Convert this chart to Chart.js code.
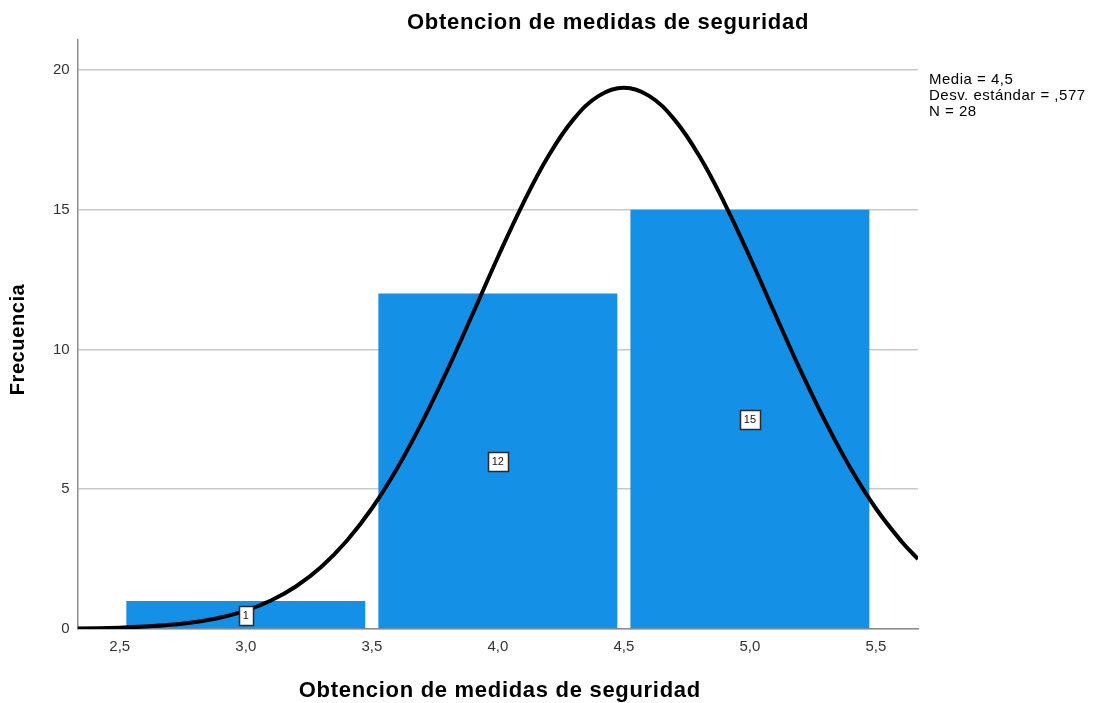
<!DOCTYPE html>
<html>
<head>
	<title>Obtencion de medidas de seguridad</title>
	<script src="https://cdn.jsdelivr.net/npm/chart.js@4.4.1/dist/chart.umd.min.js"></script>
	<style>
		body { margin: 0; background: #fff; }
		#wrap { width: 1099px; height: 703px; }
	</style>
</head>
<body>
	<div id="wrap">
		<canvas id="chart" width="1099" height="703"></canvas>
	</div>
	<script>
		// histograma
		var binCenters = [3, 4, 5];
		var frecuencias = [1, 12, 15];

		// curva normal (media 4,5 / desv 0,577 / N 28)
		var curvaX = [2.333, 2.5, 2.6, 2.7, 2.8, 2.9, 3.0, 3.1, 3.2, 3.3, 3.4, 3.5, 3.6, 3.7, 3.8, 3.9, 4.0, 4.1, 4.2, 4.3, 4.4, 4.5,
			4.6, 4.7, 4.8, 4.9, 5.0, 5.1, 5.2, 5.3, 5.4, 5.5, 5.6, 5.667];
		var curvaY = [0.015, 0.048, 0.086, 0.149, 0.252, 0.414, 0.66, 1.02, 1.53, 2.23, 3.15, 4.31, 5.74, 7.41, 9.27, 11.27, 13.3, 15.22, 16.91, 18.23, 19.07, 19.36,
			19.07, 18.23, 16.91, 15.22, 13.3, 11.27, 9.27, 7.41, 5.74, 4.31, 3.15, 2.5];

		var xTicks = [2.5, 3.0, 3.5, 4.0, 4.5, 5.0, 5.5];
		var yTicks = [0, 5, 10, 15, 20];
		var titulo = "Obtencion de medidas de seguridad";
		var tituloY = "Frecuencia";
		var estadisticos = ["Media = 4,5", "Desv. estándar = ,577", "N = 28"];

		var fuente = "'Liberation Sans', Arial, sans-serif";

		function coma(v) {
			return v.toFixed(1).replace(".", ",");
		}

		var barras = [];
		for (var i = 0; i < binCenters.length; i++) {
			barras.push({ x: binCenters[i], y: frecuencias[i] });
		}
		var curva = [];
		for (var j = 0; j < curvaX.length; j++) {
			curva.push({ x: curvaX[j], y: curvaY[j] });
		}

		var extras = {
			id: "extras",
			afterDatasetsDraw: function (chart) {
				var ctx = chart.ctx;
				var xs = chart.scales.x, ys = chart.scales.y;
				// cajitas con la frecuencia
				ctx.save();
				ctx.font = "11px " + fuente;
				ctx.textAlign = "center";
				ctx.textBaseline = "middle";
				for (var i = 0; i < binCenters.length; i++) {
					var cx = xs.getPixelForValue(binCenters[i]);
					var cy = ys.getPixelForValue(frecuencias[i] / 2);
					var txt = String(frecuencias[i]);
					var w = Math.round(ctx.measureText(txt).width + 8);
					var h = 19;
					var bx = Math.round(cx - w / 2) + 0.5, by = Math.round(cy - h / 2) + 0.5;
					ctx.fillStyle = "#ffffff";
					ctx.strokeStyle = "#2a2a2a";
					ctx.lineWidth = 1.5;
					ctx.fillRect(bx, by, w, h);
					ctx.strokeRect(bx, by, w, h);
					ctx.fillStyle = "#111";
					ctx.fillText(txt, cx, cy + 1);
				}
				ctx.restore();
			},
			afterDraw: function (chart) {
				var ctx = chart.ctx;
				var area = chart.chartArea;
				ctx.save();
				ctx.fillStyle = "#000";
				ctx.textBaseline = "middle";
				ctx.textAlign = "center";
				ctx.font = "bold 22px " + fuente;
				ctx.letterSpacing = "0.7px";
				ctx.fillText(titulo, 608, 23);
				ctx.fillText(titulo, (area.left + area.right) / 2 + 2, 691);
				ctx.save();
				ctx.translate(18, (area.top + area.bottom) / 2 + 5);
				ctx.rotate(-Math.PI / 2);
				ctx.font = "bold 20px " + fuente;
				ctx.letterSpacing = "0.6px";
				ctx.fillText(tituloY, 0, 0);
				ctx.restore();
				ctx.font = "15px " + fuente;
				ctx.letterSpacing = "0.5px";
				ctx.textAlign = "left";
				for (var k = 0; k < estadisticos.length; k++) {
					ctx.fillText(estadisticos[k], 929, 80 + k * 16);
				}
				ctx.restore();
			}
		};

		var canvas = document.getElementById("chart").getContext("2d");
		window.hist = new Chart(canvas, {
			data: {
				datasets: [{
					type: "line",
					label: "Normal",
					data: curva,
					borderColor: "#000000",
					borderWidth: 4,
					pointRadius: 0,
					tension: 0.4,
					fill: false,
					order: 0
				}, {
					type: "bar",
					label: "Frecuencia",
					data: barras,
					backgroundColor: "#1490e6",
					borderWidth: 0,
					// el ancho se mide contra el paso de ticks (0,5), no el de barras (1)
					barPercentage: 1.896,
					categoryPercentage: 1,
					order: 1
				}]
			},
			options: {
				responsive: false,
				animation: false,
				layout: { padding: { top: 40, right: 181, left: 45, bottom: 38 } },
				plugins: {
					legend: { display: false },
					tooltip: { enabled: false },
					title: { display: false }
				},
				scales: {
					x: {
						type: "linear",
						offset: false,
						min: 2.333,
						max: 5.667,
						afterBuildTicks: function (axis) {
							axis.ticks = xTicks.map(function (v) { return { value: v }; });
						},
						ticks: {
							callback: function (v) { return coma(v); },
							color: "#333",
							font: { size: 15, family: fuente },
							padding: 9,
							maxRotation: 0
						},
						grid: { display: false, drawTicks: false },
						border: { color: "#8c8c8c", width: 1.5 }
					},
					y: {
						min: 0,
						max: 21.07,
						afterBuildTicks: function (axis) {
							axis.ticks = yTicks.map(function (v) { return { value: v }; });
						},
						ticks: {
							color: "#333",
							font: { size: 15, family: fuente },
							padding: 8
						},
						grid: { color: "#c8c8c8", lineWidth: 1.5, drawTicks: false },
						border: { color: "#8c8c8c", width: 1.5 }
					}
				}
			},
			plugins: [extras]
		});
	</script>
</body>
</html>
